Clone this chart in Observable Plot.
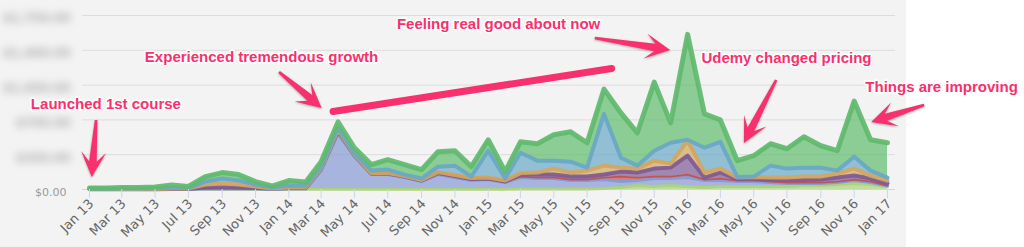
<!DOCTYPE html>
<html>
<head>
<meta charset="utf-8">
<script src="https://cdn.jsdelivr.net/npm/d3@7"></script>
<script src="https://cdn.jsdelivr.net/npm/@observablehq/plot@0.6"></script>
<style>
  html, body { margin: 0; padding: 0; background: #ffffff; }
  #chart { width: 1024px; height: 247px; background: linear-gradient(to right, #f3f3f3 906px, #ffffff 906px); }
  #chart svg { display: block; }
</style>
</head>
<body>
<div id="chart"></div>
<script>
// ---- categories: monthly, Jan 2013 .. Jan 2017 (49 months)
const months = d3.utcMonths(new Date("2013-01-01"), new Date("2017-02-01"));
const xTicks = months.filter((d, i) => i % 2 === 0);
const yTicks = [0, 350, 700, 1050, 1400, 1750];

// ---- series (stack order bottom -> top), monthly revenue in $
const seriesNames = ["Course A", "Course B", "Course C", "Course D", "Course E", "Course F", "Course G"];
const seriesColors = ["#a9d47a", "#8499d4", "#c0504d", "#7f5a92", "#d2a660", "#68a8c4", "#5fba6c"];
const seriesLineWidths = [3, 3, 1.8, 4, 4, 4, 5];

const courseA = [3,3,3,3,3,3,3,3,3,3,3,3,3,3,3,3,3,3,3,3,3,3,3,3,3,3,5,5,5,5,5,10,20,40,30,40,30,20,30,30,30,30,30,40,40,50,60,50,30];
const courseB = [0,0,0,0,0,0,0,2,2,2,2,0,2,2,187,557,327,147,147,117,77,147,117,87,97,67,115,105,105,85,85,90,60,50,80,70,90,70,60,50,50,40,30,20,20,20,30,20,5];
const courseC = [0,0,0,0,0,0,0,5,5,5,3,2,5,5,10,20,10,5,5,5,5,10,10,10,5,5,10,10,10,10,10,20,50,30,20,20,30,10,20,10,10,10,10,10,10,10,10,10,5];
const courseD = [0,0,0,0,0,2,2,10,15,10,7,3,5,5,5,10,5,5,5,5,5,5,5,5,5,5,20,30,30,30,30,30,50,50,80,90,190,20,60,15,20,20,25,25,30,40,40,30,20];
const courseE = [2,2,2,2,2,5,5,30,35,30,15,2,5,5,5,10,5,5,5,5,5,10,10,10,10,10,15,20,60,40,60,90,40,40,80,40,150,50,40,15,15,20,25,35,30,40,70,30,30];
const courseF = [3,3,5,5,5,10,5,30,50,40,20,10,20,15,10,20,10,25,35,15,15,55,95,15,270,20,205,120,80,110,30,520,100,30,100,210,10,250,270,5,5,120,90,90,90,30,120,50,30];
const courseG = [7,7,10,10,15,25,15,50,60,60,30,15,50,40,60,60,60,60,100,100,90,150,150,100,110,70,110,170,260,300,250,250,450,330,690,200,1060,340,220,165,210,220,200,310,220,200,560,310,350];
const seriesValues = [courseA, courseB, courseC, courseD, courseE, courseF, courseG];

// ---- annotations (data space)
const PINK = "#f8306d";
const noteLabels = ["Launched 1st course", "Experienced tremendous growth", "Feeling real good about now", "Udemy changed pricing", "Things are improving"];
const noteDates = ["2013-01-31", "2013-11-12", "2015-01-20", "2016-06-30", "2017-04-10"];
const noteValues = [855, 1328, 1659, 1317, 1026];
const arrowFrom = [["2013-01-14", 694], ["2013-12-15", 1177], ["2015-07-16", 1519], ["2016-06-12", 1096], ["2017-03-10", 845]];
const arrowTo = [["2013-01-06", 121], ["2014-03-03", 815], ["2015-12-01", 1398], ["2016-04-14", 463], ["2016-12-03", 674]];
const strokeFrom = ["2014-03-23", 784];
const strokeTo = ["2015-08-15", 1217];

// ---- build tables
const data = seriesNames.flatMap((name, si) => months.map((m, i) => ({date: m, series: name, value: seriesValues[si][i], lw: seriesLineWidths[si]})));
const notes = noteLabels.map((t, i) => ({label: t, date: new Date(noteDates[i]), value: noteValues[i]}));
const arrows = arrowFrom.map((f, i) => ({x1: new Date(f[0]), y1: f[1], x2: new Date(arrowTo[i][0]), y2: arrowTo[i][1]}));
const strokes = [{x1: new Date(strokeFrom[0]), y1: strokeFrom[1], x2: new Date(strokeTo[0]), y2: strokeTo[1]}];

function skitchArrows(index, scales) {
  const g = d3.create("svg:g").attr("fill", PINK).style("filter", "drop-shadow(0px 1px 1px rgba(0,0,0,0.3))");
  for (const a of arrows) {
    const x1 = scales.x(a.x1), y1 = scales.y(a.y1), x2 = scales.x(a.x2), y2 = scales.y(a.y2);
    const dx = x2 - x1, dy = y2 - y1, len = Math.hypot(dx, dy);
    const ux = dx / len, uy = dy / len, nx = -uy, ny = ux;
    const H = 25, W = 12.5, neck = 0.62 * H;
    const pt = (t, w) => [x2 - ux * t + nx * w, y2 - uy * t + ny * w];
    const pts = [[x1 + nx * 1.3, y1 + ny * 1.3], pt(neck, 3.8), pt(H, W), [x2, y2], pt(H, -W), pt(neck, -3.8), [x1 - nx * 1.3, y1 - ny * 1.3]];
    g.append("path").attr("d", "M" + pts.map(p => p.join(",")).join("L") + "Z").attr("stroke-linejoin", "round");
  }
  return g.node();
}

function build(useCustomArrows) {
  return Plot.plot({
    width: 1024,
    height: 247,
    marginLeft: 89,
    marginRight: 137,
    marginTop: 15,
    marginBottom: 58,
    style: {background: "transparent", fontFamily: "'DejaVu Sans', sans-serif", overflow: "visible"},
    x: {type: "utc", domain: [months[0], months[months.length - 1]]},
    y: {domain: [0, 1750]},
    color: {domain: seriesNames, range: seriesColors},
    marks: [
      Plot.ruleY(yTicks.slice(1), {stroke: "#dcdcdc", insetLeft: -7, insetRight: -8}),
      Plot.ruleY([0], {stroke: "#ccd6eb", insetLeft: -7, insetRight: -8}),
      Plot.areaY(data, {x: "date", y: "value", z: "series", fill: "series", fillOpacity: 0.7, curve: "linear"}),
      Plot.lineY(data, Plot.stackY2({x: "date", y: "value", z: "series", stroke: "series", strokeWidth: "lw", strokeOpacity: 0.92, curve: "linear"})),
      Plot.axisY({ticks: [0], tickSize: 0, tickPadding: 23, tickFormat: d3.format("$,.2f"), fill: "#999", fontSize: 11, dy: 3}),
      Plot.axisY({ticks: yTicks.slice(1), tickSize: 0, tickPadding: 19, tickFormat: d3.format("$,.2f"), fill: "#aaa", fontSize: 12, fontWeight: "bold", dy: 3}),
      Plot.axisX({ticks: xTicks, tickSize: 9, stroke: "#ccd6eb", tickFormat: () => ""}),
      Plot.axisX({ticks: xTicks, tickSize: 0, tickPadding: 12, tickRotate: -45, tickFormat: d3.utcFormat("%b %y"), fill: "#666", fontSize: 13, dx: 2}),
      Plot.link(strokes, {x1: "x1", y1: "y1", x2: "x2", y2: "y2", stroke: PINK, strokeWidth: 7, strokeLinecap: "round"}),
      useCustomArrows ? skitchArrows
        : Plot.arrow(arrows, {x1: "x1", y1: "y1", x2: "x2", y2: "y2", stroke: PINK, strokeWidth: 5, headLength: 18}),
      Plot.text(notes, {x: "date", y: "value", text: "label", fill: PINK, stroke: "white", strokeWidth: 3, fontWeight: "bold", fontSize: 15, fontFamily: "'Liberation Sans', Arial, sans-serif", ariaLabel: "annotation"})
    ]
  });
}

let plot;
try { plot = build(true); } catch (e) { plot = build(false); }
document.getElementById("chart").appendChild(plot);

// blur the concealed y-axis amounts, as in the reference
const svg = d3.select(plot);
const defs = svg.insert("defs", ":first-child");
defs.append("filter").attr("id", "conceal").attr("x", "-20%").attr("y", "-80%").attr("width", "140%").attr("height", "260%")
  .append("feGaussianBlur").attr("stdDeviation", 4.5);
svg.selectAll("text").filter(function() { return /^\$[1-9]/.test(this.textContent); }).attr("filter", "url(#conceal)");
svg.selectAll('g[aria-label="annotation"]').style("filter", "drop-shadow(0px 1px 1px rgba(0,0,0,0.25))");
</script>
</body>
</html>
